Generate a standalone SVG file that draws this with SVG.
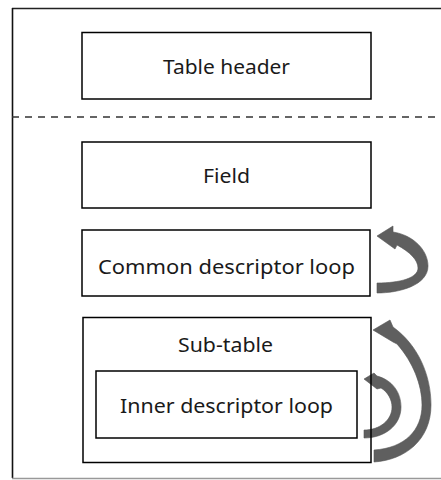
<svg xmlns="http://www.w3.org/2000/svg" width="441" height="480" viewBox="0 0 441 480">
<style>
.box{fill:#fff;stroke:#000;stroke-width:1.5}
.open{fill:none;stroke:#000;stroke-width:1.5}
.lbl{font-family:"Noto Sans","DejaVu Sans",sans-serif;font-size:19px;fill:#1a1a1a;text-anchor:middle}
.arr{fill:#5f5f5f;stroke:#555;stroke-width:0.6}
</style>
<rect x="0" y="0" width="441" height="480" fill="#fff"/>
<g id="frame">
<line x1="12" y1="8.5" x2="441" y2="8.5" stroke="#222" stroke-width="1.6"/>
<line x1="12.5" y1="8" x2="12.5" y2="478" stroke="#111" stroke-width="1.6"/>
<line x1="12" y1="478.5" x2="441" y2="478.5" stroke="#999" stroke-width="1.4"/>
<line x1="12" y1="117" x2="441" y2="117" stroke="#333" stroke-width="1.5" stroke-dasharray="7,6"/>
</g>
<g id="connectors">
<path class="arr" d="M377,283 L377,293 C400,293 428,285 428,266 C428,250 413,235 393,232 L393,226 L377,236 L395,249 L397,245 C410,252 418,260 418,268 C418,278 400,283 377,283 Z"/>
<path class="arr" d="M374,450 L374,462 C405,460 431,440 431,405 C431,375 418,345 393,327 L390,320 L373,330 L393,342 L397,344 C413,362 422,385 422,405 C422,430 405,448 374,450 Z"/>
<path class="arr" d="M364,430 L364,438 C385,438 401,425 401,407 C401,392 392,380 377,376 L374,373 L364,379 L377,389 L381,388 C388,392 392,400 392,407 C392,420 380,430 364,430 Z"/>
</g>
<g id="table-header">
<rect class="box" x="82" y="32.5" width="289" height="66.5"/>
<text class="lbl" x="226.5" y="74" textLength="127" lengthAdjust="spacingAndGlyphs">Table header</text>
</g>
<g id="field">
<rect class="box" x="82" y="142" width="289" height="66"/>
<text class="lbl" x="226.5" y="183" textLength="47" lengthAdjust="spacingAndGlyphs">Field</text>
</g>
<g id="common-descriptor-loop">
<rect class="box" x="82" y="230" width="288" height="66"/>
<text class="lbl" x="226.5" y="274" textLength="257" lengthAdjust="spacingAndGlyphs">Common descriptor loop</text>
</g>
<g id="sub-table">
<rect class="open" x="83" y="317.5" width="288" height="145"/>
<text class="lbl" x="225.5" y="352" textLength="95" lengthAdjust="spacingAndGlyphs">Sub-table</text>
</g>
<g id="inner-descriptor-loop">
<rect class="box" x="96" y="371" width="261" height="67"/>
<text class="lbl" x="226.5" y="413" textLength="213" lengthAdjust="spacingAndGlyphs">Inner descriptor loop</text>
</g>
</svg>
